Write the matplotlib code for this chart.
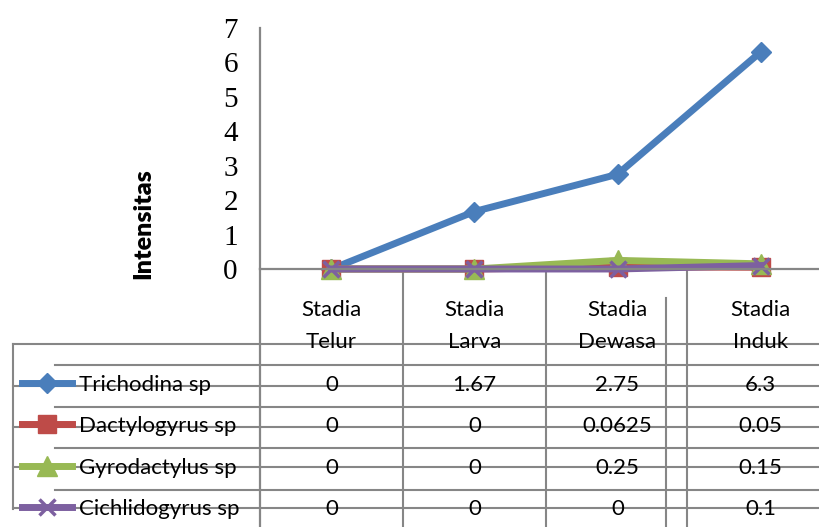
import matplotlib
matplotlib.use("Agg")
import matplotlib.pyplot as plt

# Parasite intensity per fish life stage
stages = ["Stadia\nTelur", "Stadia\nLarva", "Stadia\nDewasa", "Stadia\nInduk"]
series_names = ["Trichodina sp", "Dactylogyrus sp", "Gyrodactylus sp", "Cichlidogyrus sp"]
trichodina = [0, 1.67, 2.75, 6.3]
dactylogyrus = [0, 0, 0.0625, 0.05]
gyrodactylus = [0, 0, 0.25, 0.15]
cichlidogyrus = [0, 0, 0, 0.1]
y_ticks = [0, 1, 2, 3, 4, 5, 6, 7]

series_values = [trichodina, dactylogyrus, gyrodactylus, cichlidogyrus]
colors = ["#4A7EBB", "#BE4B48", "#98B954", "#7D60A0"]
markers = ["D", "s", "^", "x"]
msizes = [10, 13, 14, 12]

W, H = 820, 527
fig = plt.figure(figsize=(W / 100, H / 100), dpi=100)
fig.patch.set_facecolor("white")

def fx(x):
    return x / W

def fy(y):
    return 1 - y / H

grid_col = "#868686"
table_font = "Lato"
table_size = 16

# background layer in pixel coordinates for the data table grid
bg = fig.add_axes([0, 0, 1, 1], zorder=0)
bg.set_xlim(0, W)
bg.set_ylim(H, 0)
bg.axis("off")

# plotting area
x0, x1, ytop, ybot = 260, 820, 28, 269
cat_w = 143
ax = fig.add_axes([fx(x0), fy(ybot), (x1 - x0) / W, (ybot - ytop) / H], zorder=2)
ax.set_facecolor("none")
ax.set_xlim(-0.5, -0.5 + (x1 - x0) / cat_w)
ax.set_ylim(0, 7)
for s in ["top", "right"]:
    ax.spines[s].set_visible(False)
for s in ["left", "bottom"]:
    ax.spines[s].set_color(grid_col)
    ax.spines[s].set_linewidth(1.6)
ax.set_xticks([])
ax.set_yticks(y_ticks)
ax.set_yticklabels([str(t) for t in y_ticks], family="Liberation Serif", fontsize=21)
ax.tick_params(axis="y", length=0, pad=16)

# axis title
bg.text(143, 224, "Intensitas", rotation=90, ha="center", va="center",
        family=table_font, fontweight="heavy", fontsize=18)

xs = list(range(len(stages)))
for vals, c, m, ms in zip(series_values, colors, markers, msizes):
    ax.plot(xs, vals, color=c, lw=5, marker=m, ms=ms, mfc=c, mec=c,
            mew=2.5 if m == "x" else 1, clip_on=False, solid_joinstyle="miter")

# data table grid
lw = 1.5
for y in [344, 386, 427, 467, 508]:
    bg.plot([13, W], [y, y], color=grid_col, lw=lw)
for y in [365, 407, 448, 490]:
    bg.plot([55, W], [y, y], color=grid_col, lw=lw)
bg.plot([13, 13], [344, 509], color=grid_col, lw=lw)
bg.plot([260, 260], [ybot, H], color=grid_col, lw=1.6)
for x in [403, 546, 687]:
    bg.plot([x, x], [ybot, H], color=grid_col, lw=lw)
bg.plot([666, 666], [298, H], color=grid_col, lw=lw)

# table header: stage names
centers = [x0 + cat_w * (i + 0.5) for i in xs]
for cx, name in zip(centers, stages):
    top, bottom = name.split("\n")
    bg.text(cx, 310, top, ha="center", va="center", family=table_font, fontsize=table_size)
    bg.text(cx, 342, bottom, ha="center", va="center", family=table_font, fontsize=table_size)

# table rows: legend key, series name, values
row_y = [385, 426, 468, 509]
for ry, name, vals, c, m, ms in zip(row_y, series_names, series_values, colors, markers, msizes):
    bg.plot([22, 72], [ry - 2, ry - 2], color=c, lw=5, zorder=3)
    bg.plot([47], [ry - 2], marker=m, ms=ms, color=c, mec=c,
            mew=2.5 if m == "x" else 1, zorder=4)
    bg.text(79, ry, name, ha="left", va="center", family=table_font,
            fontsize=table_size, zorder=5)
    for cx, v in zip(centers, vals):
        bg.text(cx, ry, f"{v:g}", ha="center", va="center", family=table_font,
                fontsize=table_size, zorder=5)

fig.savefig("out.png", dpi=100, facecolor="white")
